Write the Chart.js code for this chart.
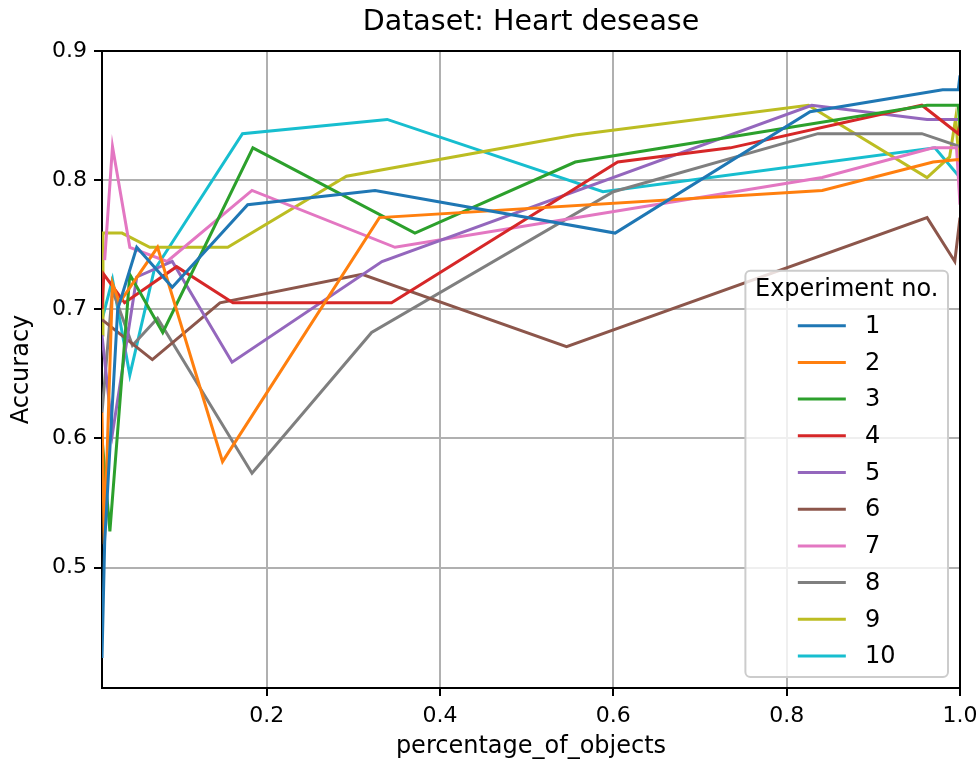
<!DOCTYPE html>
<html>
<head>
<meta charset="utf-8">
<title>Dataset: Heart desease</title>
<script src="https://cdn.jsdelivr.net/npm/chart.js@4.4.0/dist/chart.umd.min.js"></script>
<style>
  html, body { margin: 0; padding: 0; background: #fff; }
  #wrap { width: 980px; height: 767px; }
</style>
</head>
<body>
<div id="wrap"><canvas id="accuracyChart" width="980" height="767"></canvas></div>
<script>
// ── Data ────────────────────────────────────────────────────────
var xTicks = [0.2, 0.4, 0.6, 0.8, 1.0];
var yTicks = [0.5, 0.6, 0.7, 0.8, 0.9];
var xMin = 0.0099, xMax = 1.0;
var yMin = 0.4067, yMax = 0.9;

var experimentLabels = ["1", "2", "3", "4", "5", "6", "7", "8", "9", "10"];

var exp1X = [0.0099, 0.013, 0.028, 0.05, 0.091, 0.178, 0.325, 0.602, 0.827, 0.98, 0.998, 1.0];
var exp1Y = [0.43, 0.52, 0.70, 0.748, 0.717, 0.781, 0.792, 0.759, 0.853, 0.870, 0.870, 0.881];

var exp2X = [0.0099, 0.0125, 0.022, 0.03, 0.074, 0.149, 0.330, 0.841, 0.969, 0.998, 1.0];
var exp2Y = [0.62, 0.518, 0.72, 0.705, 0.748, 0.582, 0.771, 0.792, 0.814, 0.816, 0.815];

var exp3X = [0.0099, 0.019, 0.042, 0.08, 0.184, 0.371, 0.556, 0.962, 0.998, 1.0];
var exp3Y = [0.60, 0.528, 0.727, 0.682, 0.825, 0.759, 0.814, 0.858, 0.858, 0.84];

var exp4X = [0.0099, 0.012, 0.036, 0.096, 0.161, 0.344, 0.605, 0.735, 0.956, 0.998, 1.0];
var exp4Y = [0.70, 0.727, 0.705, 0.733, 0.705, 0.705, 0.814, 0.825, 0.858, 0.836, 0.845];

var exp5X = [0.0099, 0.022, 0.05, 0.091, 0.16, 0.333, 0.829, 0.962, 1.0];
var exp5Y = [0.68, 0.604, 0.725, 0.737, 0.659, 0.737, 0.858, 0.847, 0.847];

var exp6X = [0.0099, 0.068, 0.146, 0.31, 0.546, 0.962, 0.994, 1.0];
var exp6Y = [0.692, 0.661, 0.705, 0.727, 0.671, 0.771, 0.737, 0.771];

var exp7X = [0.013, 0.022, 0.042, 0.085, 0.183, 0.348, 0.841, 0.969, 0.996, 1.0];
var exp7Y = [0.738, 0.826, 0.748, 0.737, 0.792, 0.748, 0.802, 0.825, 0.825, 0.781];

var exp8X = [0.0099, 0.022, 0.045, 0.074, 0.183, 0.321, 0.6, 0.836, 0.956, 1.0];
var exp8Y = [0.62, 0.715, 0.672, 0.693, 0.573, 0.682, 0.791, 0.836, 0.836, 0.826];

var exp9X = [0.0099, 0.011, 0.033, 0.065, 0.155, 0.292, 0.556, 0.825, 0.962, 0.988, 0.995, 1.0];
var exp9Y = [0.68, 0.759, 0.759, 0.748, 0.748, 0.803, 0.835, 0.858, 0.802, 0.818, 0.848, 0.805];

var exp10X = [0.0099, 0.022, 0.042, 0.07, 0.172, 0.339, 0.588, 0.971, 1.0];
var exp10Y = [0.692, 0.723, 0.649, 0.73, 0.836, 0.847, 0.791, 0.825, 0.802];

var seriesX = [exp1X, exp2X, exp3X, exp4X, exp5X, exp6X, exp7X, exp8X, exp9X, exp10X];
var seriesY = [exp1Y, exp2Y, exp3Y, exp4Y, exp5Y, exp6Y, exp7Y, exp8Y, exp9Y, exp10Y];

// matplotlib tab10
var palette = ["#1f77b4", "#ff7f0e", "#2ca02c", "#d62728", "#9467bd",
               "#8c564b", "#e377c2", "#7f7f7f", "#bcbd22", "#17becf"];

var FONT = "'DejaVu Sans', sans-serif";

function toPoints(xs, ys) {
  return xs.map(function(x, i) { return { x: x, y: ys[i] }; });
}

var datasets = experimentLabels.map(function(label, i) {
  return {
    label: label,
    data: toPoints(seriesX[i], seriesY[i]),
    borderColor: palette[i],
    backgroundColor: palette[i],
    borderWidth: 3,
    pointRadius: 0,
    fill: false,
    tension: 0
  };
});

// ── Frame: top and right spines ─────────────────────────────────
var framePlugin = {
  id: "frame",
  afterDatasetsDraw: function(chart) {
    var a = chart.chartArea, ctx = chart.ctx;
    ctx.save();
    ctx.strokeStyle = "#000";
    ctx.lineWidth = 2;
    ctx.beginPath();
    ctx.moveTo(a.left, a.top);
    ctx.lineTo(a.right, a.top);
    ctx.lineTo(a.right, a.bottom);
    ctx.stroke();
    ctx.restore();
  }
};

// ── Legend in matplotlib style (lower right, with title) ───────
var legendPlugin = {
  id: "mplLegend",
  afterDraw: function(chart) {
    var a = chart.chartArea, ctx = chart.ctx;
    var fs = 24, pad = 9.6, rowH = 36.7;
    var title = "Experiment no.";
    ctx.save();
    ctx.font = fs + "px " + FONT;
    var tw = ctx.measureText(title).width;
    var boxW = tw + 2 * pad;
    var boxH = 19 + 36 + (chart.data.datasets.length - 1) * rowH + 21;
    var right = a.right - 12, bottom = a.bottom - 11;
    var left = right - boxW, top = bottom - boxH;

    ctx.beginPath();
    if (ctx.roundRect) ctx.roundRect(left, top, boxW, boxH, 5);
    else ctx.rect(left, top, boxW, boxH);
    ctx.fillStyle = "rgba(255,255,255,0.8)";
    ctx.fill();
    ctx.strokeStyle = "#cccccc";
    ctx.lineWidth = 2;
    ctx.stroke();

    var cx = left + boxW / 2;
    ctx.fillStyle = "#000";
    ctx.textBaseline = "middle";
    ctx.textAlign = "center";
    ctx.fillText(title, cx, top + 19);

    var handleLen = 2 * fs, gap = 0.8 * fs;
    var maxLabel = 0;
    chart.data.datasets.forEach(function(ds) {
      maxLabel = Math.max(maxLabel, ctx.measureText(ds.label).width);
    });
    var startX = cx - (handleLen + gap + maxLabel) / 2;
    ctx.textAlign = "left";
    chart.data.datasets.forEach(function(ds, i) {
      var y = top + 19 + 36 + i * rowH;
      ctx.strokeStyle = ds.borderColor;
      ctx.lineWidth = 3;
      ctx.beginPath();
      ctx.moveTo(startX, y);
      ctx.lineTo(startX + handleLen, y);
      ctx.stroke();
      ctx.fillStyle = "#000";
      ctx.fillText(ds.label, startX + handleLen + gap, y + 1);
    });
    ctx.restore();
  }
};

// ── Chart ───────────────────────────────────────────────────────
new Chart(document.getElementById("accuracyChart"), {
  type: "line",
  data: { datasets: datasets },
  options: {
    responsive: false,
    animation: false,
    layout: { padding: { top: 0, right: 20, bottom: 0, left: 0 } },
    plugins: {
      legend: { display: false },
      tooltip: { enabled: false },
      title: {
        display: true,
        fullSize: false,
        text: "Dataset: Heart desease",
        color: "#000",
        font: { family: FONT, size: 28.5, weight: "normal" },
        padding: { top: 5, bottom: 11.8 }
      }
    },
    scales: {
      x: {
        type: "linear",
        min: xMin,
        max: xMax,
        afterBuildTicks: function(s) {
          s.ticks = xTicks.map(function(v) { return { value: v }; });
        },
        afterFit: function(s) {
          s.height = 79;
          s.paddingLeft = 0;
          s.paddingRight = 0;
        },
        ticks: {
          color: "#000",
          font: { family: FONT, size: 22 },
          padding: 7,
          maxRotation: 0,
          autoSkip: false,
          callback: function(v) { return Number(v).toFixed(1); }
        },
        grid: { color: "#b0b0b0", lineWidth: 2, tickColor: "#000", tickLength: 8, tickWidth: 2 },
        border: { display: true, color: "#000", width: 2 },
        title: {
          display: true,
          text: "percentage_of_objects",
          color: "#000",
          font: { family: FONT, size: 24 },
          padding: { top: 0, bottom: 5.6 }
        }
      },
      y: {
        type: "linear",
        min: yMin,
        max: yMax,
        afterBuildTicks: function(s) {
          s.ticks = yTicks.map(function(v) { return { value: v }; });
        },
        afterFit: function(s) {
          s.width = 102;
          s.paddingTop = 0;
          s.paddingBottom = 0;
        },
        ticks: {
          color: "#000",
          font: { family: FONT, size: 22 },
          padding: 7,
          autoSkip: false,
          callback: function(v) { return Number(v).toFixed(1); }
        },
        grid: { color: "#b0b0b0", lineWidth: 2, tickColor: "#000", tickLength: 8, tickWidth: 2 },
        border: { display: true, color: "#000", width: 2 },
        title: {
          display: true,
          text: "Accuracy",
          color: "#000",
          font: { family: FONT, size: 24 },
          padding: { top: 7.6, bottom: 0 }
        }
      }
    }
  },
  plugins: [framePlugin, legendPlugin]
});
</script>
</body>
</html>
